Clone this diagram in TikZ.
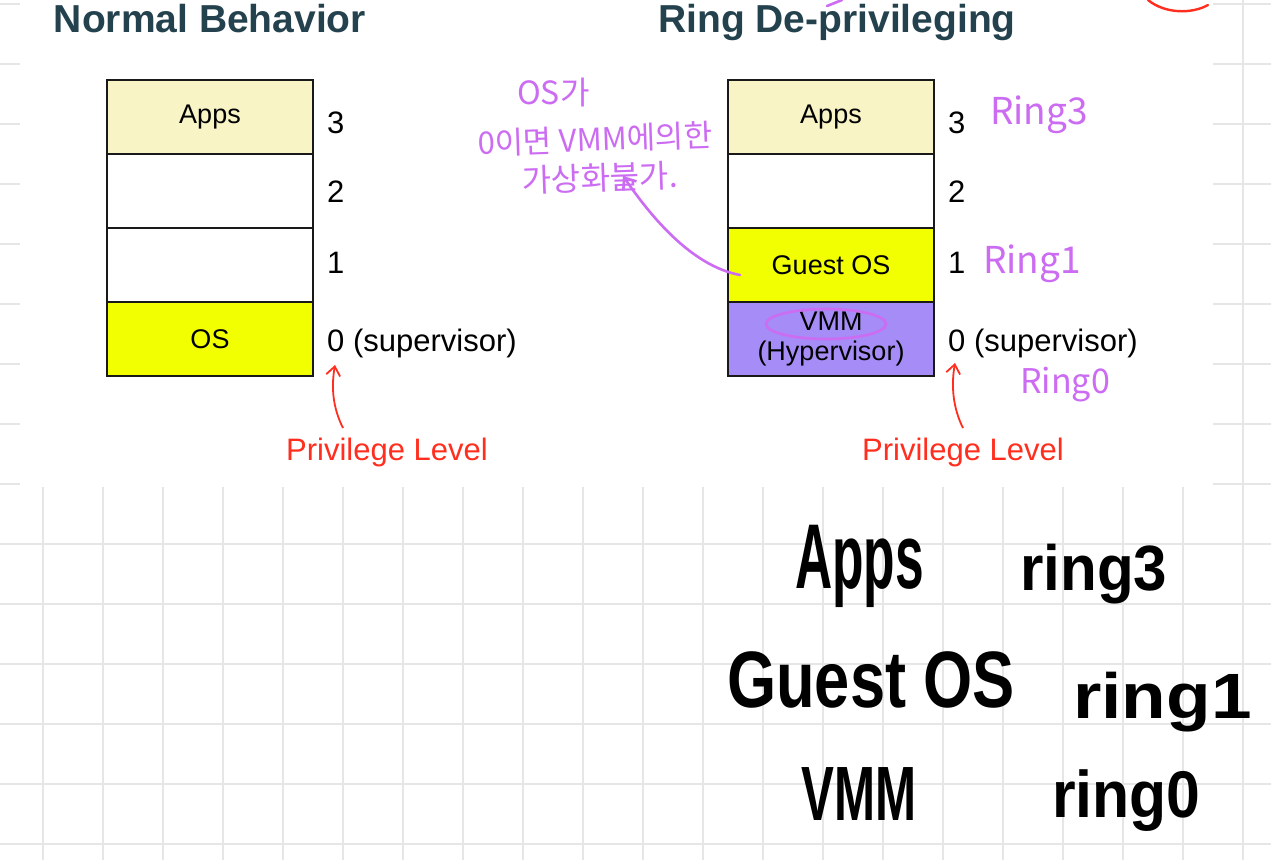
\documentclass[tikz,border=0pt]{standalone}
\usepackage{fontspec}
\setmainfont{Liberation Sans}
\newfontfamily\krfont{Noto Sans CJK KR}
\usetikzlibrary{arrows.meta}
\definecolor{gridc}{HTML}{E6E6E6}
\definecolor{titlec}{HTML}{24414E}
\definecolor{appsc}{HTML}{F8F4C6}
\definecolor{yelc}{HTML}{F2FF00}
\definecolor{purc}{HTML}{A68CF6}
\definecolor{penc}{HTML}{CC6CF2}
\definecolor{redc}{HTML}{FF2E1F}
\newcommand\fsz[1]{\fontsize{#1}{#1}\selectfont}
\begin{document}
\begin{tikzpicture}[x=1pt,y=-1pt,
  gridline/.style={draw=gridc, line width=2pt},
  layer/.style={draw=black!90, line width=2.5pt, minimum width=206pt, minimum height=74pt,
    inner sep=0pt, align=center, font=\fontsize{27}{30}\selectfont, text=black},
  ttl/.style={inner sep=0pt, anchor=base, text=titlec, font=\bfseries\fsz{39}},
  lvl/.style={inner sep=0pt, anchor=base west, font=\fsz{31}, text=black},
  plev/.style={inner sep=0pt, anchor=base, font=\fsz{31}, text=redc},
  redarr/.style={draw=redc, line width=1.8pt, -{Straight Barb[length=9pt,width=14pt,line width=1.8pt]}},
  pen/.style={draw=penc, line width=2.6pt, line cap=round},
  pentext/.style={inner sep=0pt, anchor=base west, text=penc, font=\krfont\fsz{#1}},
  hand/.style={inner sep=0pt, anchor=base west, text=black, font=\bfseries\fsz{#1}}
]
\useasboundingbox (0,0) rectangle (1271,860);
% notebook grid
\foreach \yy in {4,64,...,844} \draw[gridline] (0,\yy) -- (1271,\yy);
\foreach \xx in {43,103,...,1243} \draw[gridline] (\xx,0) -- (\xx,860);
\fill[white] (20,0) rectangle (1213,487);

% titles
\node[ttl] (tL) at (210,32) {Normal Behavior};
\node[ttl] (tR) at (837,32) {Ring De-privileging};

% left stack
\node[layer, fill=appsc] (lA) at (210,117) {Apps};
\node[layer, fill=white] (l2) at (210,191) {};
\node[layer, fill=white] (l1) at (210,265) {};
\node[layer, fill=yelc] (lO) at (210,339) {OS};
\node[lvl] (lv3) at (327,133) {3};
\node[lvl] (lv2) at (327,202) {2};
\node[lvl] (lv1) at (327,273) {1};
\node[lvl] (lv0) at (327,351) {0 (supervisor)};
\node[plev] (pL) at (387,460) {Privilege Level};

% right stack
\node[layer, fill=appsc] (rA) at (831,117) {Apps};
\node[layer, fill=white] (r2) at (831,191) {};
\node[layer, fill=yelc] (rG) at (831,265) {Guest OS};
\node[layer, fill=purc] (rV) at (831,339) {VMM\\(Hypervisor)};
\node[lvl] (rv3) at (948,133) {3};
\node[lvl] (rv2) at (948,202) {2};
\node[lvl] (rv1) at (948,273) {1};
\node[lvl] (rv0) at (948,351) {0 (supervisor)};
\node[plev] (pR) at (963,460) {Privilege Level};

% red arrows
\coordinate (aLs) at (343,428);
\coordinate (aLe) at (335,365);
\draw[redarr] (aLs) .. controls (333,408) and (331,388) .. (aLe);
\coordinate (aRs) at (963,428);
\coordinate (aRe) at (955,363);
\draw[redarr] (aRs) .. controls (953,408) and (951,386) .. (aRe);

% red arc at top right
\draw[draw=redc, line width=2.4pt, line cap=round] (1148,0) .. controls (1165,14) and (1192,14) .. (1208,5);

% magenta annotations
\draw[pen] (827,6) -- (842,0);
\node[pentext=32] (k1) at (517,104) {OS가};
\node[pentext=31, rotate=2] (k2) at (478,155) {0이면 VMM에의한};
\node[pentext=32, rotate=2] (k3) at (522,193) {가상화불가.};
\coordinate (mS) at (740,275);
\coordinate (mE) at (623,176);
\draw[pen, -{Straight Barb[length=10pt,width=16pt,line width=2.6pt]}] (mS) .. controls (692,266) and (652,218) .. (mE);
\draw[pen] (826,324) ellipse [x radius=60, y radius=15];
\node[pentext=37] (g3) at (990,124) {Ring3};
\node[pentext=37] (g1) at (983,273) {Ring1};
\node[pentext=34] (g0) at (1020,393) {Ring0};

% black handwriting
\node[hand=92, xscale=0.56] (hA) at (795,588) {Apps};
\node[hand=64, xscale=0.94] (hA3) at (1020,590) {ring3};
\node[hand=80, xscale=0.79] (hG) at (727,707) {Guest OS};
\node[hand=64, xscale=1.14] (hG1) at (1073,718) {ring1};
\node[hand=77, xscale=0.64] (hV) at (801,820) {VMM};
\node[hand=66, xscale=0.92] (hV0) at (1052,817) {ring0};
\end{tikzpicture}
\end{document}
